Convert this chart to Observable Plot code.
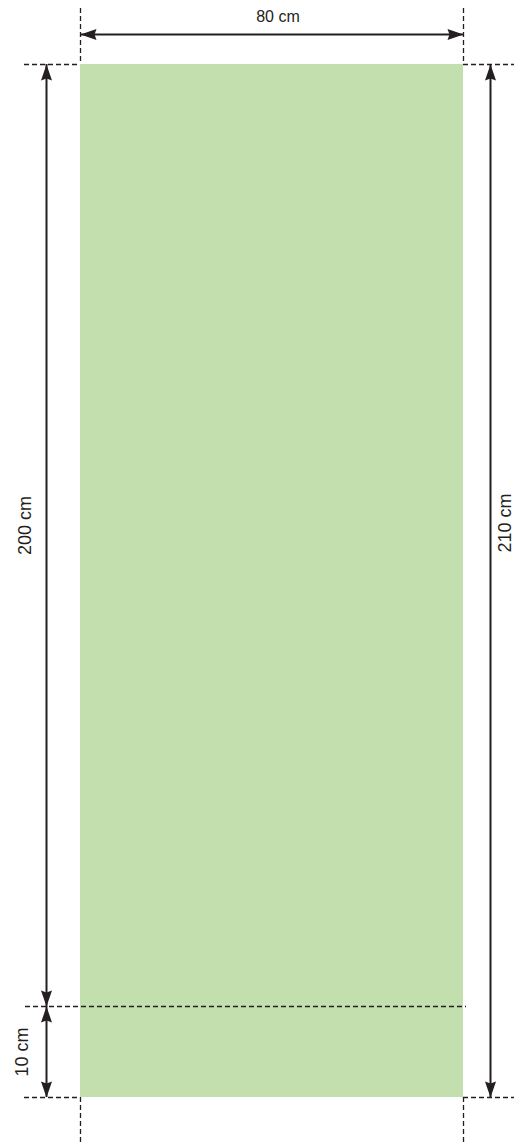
<!DOCTYPE html>
<html><head><meta charset="utf-8">
<script src="https://cdn.jsdelivr.net/npm/d3@7"></script>
<script src="https://cdn.jsdelivr.net/npm/@observablehq/plot@0.6"></script>
<style>html,body{margin:0;padding:0;background:#fff;} svg{display:block}</style>
</head><body><div id="chart"></div>
<script>
// Data (cm)
const widthCm = 80;
const lowerCm = 10;
const upperCm = 200;
const totalCm = 210;
const widthLabel = ["80 cm"];
const upperLabel = ["200 cm"];
const lowerLabel = ["10 cm"];
const totalLabel = ["210 cm"];
const edgesX = [0, widthCm];
const edgesY = [0, totalCm];

// Styles
const ink = "#231f20";
const dash = "5,3";
const font = "Liberation Sans, Arial, Helvetica, sans-serif";

// Schematic (not-to-scale) vertical scale: the 10 cm band is drawn enlarged
const lowerPx = 91, upperPx = 942;
const yScale = d3.scaleLinear().domain([0, lowerCm, totalCm]).range([1097, 1097 - lowerPx, 1097 - lowerPx - upperPx]);
const ySchematic = v => 1097 - yScale(v);

function head(dir) {
  const L = 16, W = 5.5, N = 2;
  const pts = [[0, 0], [-W, L], [0, L - N], [W, L]];
  const map = {
    up: ([x, y]) => [x, y],
    down: ([x, y]) => [x, -y],
    left: ([x, y]) => [y, x],
    right: ([x, y]) => [-y, x]
  }[dir];
  return {
    draw(ctx) {
      const p = pts.map(map);
      ctx.moveTo(p[0][0], p[0][1]);
      for (let i = 1; i < p.length; i++) ctx.lineTo(p[i][0], p[i][1]);
      ctx.closePath();
    }
  };
}

const leftDx = -34, rightDx = 27, topDy = -30;

const chart = Plot.plot({
  width: 514,
  height: 1146,
  margin: 0,
  style: {background: "#fff", fontFamily: font},
  x: {domain: [0, widthCm], range: [80, 463], axis: null},
  y: {transform: ySchematic, domain: [0, lowerPx + upperPx], range: [1097, 64], axis: null},
  marks: [
    Plot.rect([widthCm], {x1: 0, x2: d => d, y1: 0, y2: totalCm, fill: "#c3dfae"}),
    // extension lines (dashed)
    Plot.ruleX(edgesX, {x: d => d, y1: totalCm, y2: totalCm, insetTop: -56, stroke: ink, strokeWidth: 1.3, strokeDasharray: dash}),
    Plot.ruleX(edgesX, {x: d => d, y1: 0, y2: 0, insetBottom: -46, stroke: ink, strokeWidth: 1.3, strokeDasharray: dash}),
    Plot.ruleY(edgesY, {y: d => d, x1: 0, x2: 0, insetLeft: -56, stroke: ink, strokeWidth: 1.3, strokeDasharray: dash}),
    Plot.ruleY(edgesY, {y: d => d, x1: widthCm, x2: widthCm, insetRight: -52, stroke: ink, strokeWidth: 1.3, strokeDasharray: dash}),
    Plot.ruleY([lowerCm], {y: d => d, x1: 0, x2: widthCm, insetLeft: -55, insetRight: -3, stroke: ink, strokeWidth: 1.3, strokeDasharray: dash}),
    // width arrow
    Plot.ruleY([totalCm], {y: d => d, x1: 0, x2: widthCm, dy: topDy, stroke: ink, strokeWidth: 2}),
    Plot.dot([0], {x: d => d, y: totalCm, dy: topDy, symbol: head("left"), fill: ink, stroke: "none", r: 5}),
    Plot.dot([widthCm], {x: d => d, y: totalCm, dy: topDy, symbol: head("right"), fill: ink, stroke: "none", r: 5}),
    // upper (200) arrow
    Plot.ruleX([0], {x: d => d, y1: lowerCm, y2: totalCm, dx: leftDx, stroke: ink, strokeWidth: 2}),
    Plot.dot([totalCm], {x: 0, y: d => d, dx: leftDx, symbol: head("up"), fill: ink, stroke: "none", r: 5}),
    Plot.dot([lowerCm], {x: 0, y: d => d, dx: leftDx, symbol: head("down"), fill: ink, stroke: "none", r: 5}),
    // lower (10) arrow
    Plot.ruleX([0], {x: d => d, y1: 0, y2: lowerCm, dx: leftDx, stroke: ink, strokeWidth: 2}),
    Plot.dot([lowerCm], {x: 0, y: d => d, dx: leftDx, symbol: head("up"), fill: ink, stroke: "none", r: 5}),
    Plot.dot([0], {x: 0, y: d => d, dx: leftDx, symbol: head("down"), fill: ink, stroke: "none", r: 5}),
    // total (210) arrow
    Plot.ruleX([widthCm], {x: d => d, y1: 0, y2: totalCm, dx: rightDx, stroke: ink, strokeWidth: 2}),
    Plot.dot([totalCm], {x: widthCm, y: d => d, dx: rightDx, symbol: head("up"), fill: ink, stroke: "none", r: 5}),
    Plot.dot([0], {x: widthCm, y: d => d, dx: rightDx, symbol: head("down"), fill: ink, stroke: "none", r: 5}),
    // labels
    Plot.text(widthLabel, {x: widthCm / 2, y: totalCm, text: d => d, dx: 6, dy: -48, fontSize: 16, fill: ink}),
    Plot.text(upperLabel, {x: 0, y: lowerCm + upperCm / 2, text: d => d, rotate: -90, dx: -55, dy: -10, fontSize: 18, fill: ink}),
    Plot.text(lowerLabel, {x: 0, y: lowerCm / 2, text: d => d, rotate: -90, dx: -58, dy: 0, fontSize: 18, fill: ink}),
    Plot.text(totalLabel, {x: widthCm, y: totalCm / 2, text: d => d, rotate: -90, dx: 42, dy: -36, fontSize: 18, fill: ink})
  ]
});
document.getElementById("chart").appendChild(chart);
</script>
</body></html>
